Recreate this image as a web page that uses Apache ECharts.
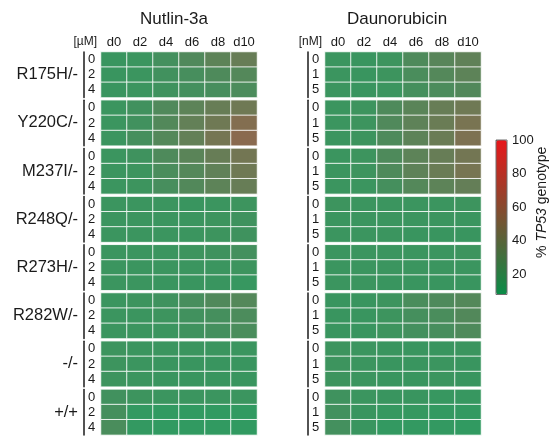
<!DOCTYPE html>
<html>
<head>
<meta charset="utf-8">
<script src="https://cdn.jsdelivr.net/npm/echarts@6/dist/echarts.min.js"></script>
<style>
  html, body { margin: 0; padding: 0; background: #fff; }
  #chart { width: 554px; height: 438px; }
</style>
</head>
<body>
<div id="chart"></div>
<script>
// Time points (days) and genotype groups
const days = ['d0', 'd2', 'd4', 'd6', 'd8', 'd10'];
const genotypes = ['R175H/-', 'Y220C/-', 'M237I/-', 'R248Q/-', 'R273H/-', 'R282W/-', '-/-', '+/+'];
const nutlinDoses = ['0', '2', '4'];
const daunoDoses = ['0', '1', '5'];
const colorbarTicks = [20, 40, 60, 80, 100];

// % TP53 genotype, Nutlin-3a treatment (rows: dose 0, 2, 4 µM; columns: d0..d10)
const nutR175H = [[14, 15, 19, 25, 31, 36], [14, 15, 18, 21, 24, 27], [14, 15, 17, 19, 21, 23]];
const nutY220C = [[15, 18, 25, 31, 36, 40], [15, 18, 26, 34, 40, 50], [15, 20, 27, 34, 43, 53]];
const nutM237I = [[15, 17, 24, 30, 36, 42], [15, 16, 22, 27, 33, 40], [15, 16, 21, 26, 31, 36]];
const nutR248Q = [[15, 15, 15, 14, 15, 16], [15, 15, 15, 15, 16, 17], [15, 15, 15, 15, 16, 17]];
const nutR273H = [[15, 15, 15, 16, 17, 19], [15, 15, 15, 15, 15, 16], [15, 15, 14, 14, 14, 13]];
const nutR282W = [[15, 16, 17, 21, 25, 27], [15, 15, 16, 18, 20, 23], [15, 15, 15, 17, 19, 22]];
const nutNull  = [[16, 15, 15, 15, 15, 15], [16, 15, 14, 14, 14, 14], [16, 15, 14, 14, 14, 14]];
const nutWT    = [[18, 16, 15, 15, 15, 15], [20, 11, 10, 10, 10, 10], [22, 11, 10, 10, 10, 10]];

// % TP53 genotype, Daunorubicin treatment (rows: dose 0, 1, 5 nM; columns: d0..d10)
const dauR175H = [[15, 14, 16, 24, 29, 33], [15, 14, 16, 22, 27, 31], [15, 14, 15, 20, 23, 26]];
const dauY220C = [[15, 16, 24, 30, 36, 40], [15, 16, 25, 32, 38, 45], [15, 16, 24, 31, 38, 47]];
const dauM237I = [[15, 16, 24, 31, 36, 42], [15, 16, 24, 32, 38, 44], [15, 15, 20, 27, 31, 35]];
const dauR248Q = [[16, 15, 15, 15, 15, 16], [15, 15, 15, 15, 15, 15], [15, 15, 15, 14, 14, 14]];
const dauR273H = [[15, 15, 15, 15, 15, 16], [15, 15, 15, 15, 15, 15], [15, 15, 14, 14, 14, 14]];
const dauR282W = [[14, 14, 16, 22, 24, 27], [14, 14, 16, 20, 22, 26], [14, 14, 16, 19, 21, 24]];
const dauNull  = [[16, 15, 14, 14, 14, 15], [16, 15, 14, 14, 15, 14], [16, 15, 14, 14, 15, 14]];
const dauWT    = [[17, 15, 14, 14, 13, 13], [18, 14, 12, 12, 11, 11], [19, 14, 11, 11, 11, 10]];

const nutlinGroups = [nutR175H, nutY220C, nutM237I, nutR248Q, nutR273H, nutR282W, nutNull, nutWT];
const daunoGroups = [dauR175H, dauY220C, dauM237I, dauR248Q, dauR273H, dauR282W, dauNull, dauWT];

const FONT = '"Liberation Sans", Arial, Helvetica, sans-serif';
const TEXT = '#1a1a1a';
const SCALE_MIN = 8, SCALE_MAX = 100;

const panels = [
  { groups: nutlinGroups, doses: nutlinDoses, unit: '[µM]', left: 101, unitGap: 4, showGenotype: true },
  { groups: daunoGroups, doses: daunoDoses, unit: '[nM]', left: 325, unitGap: 3, showGenotype: false }
];

const grids = [], xAxes = [], yAxes = [], series = [];

panels.forEach((p, pi) => {
  p.groups.forEach((rows, g) => {
    const idx = grids.length;
    grids.push({ left: p.left, top: 52 + g * 48.2, width: 156, height: 45.5, outerBoundsMode: 'none' });
    xAxes.push({
      type: 'category', gridIndex: idx, data: days, position: 'top',
      axisLine: { show: false }, axisTick: { show: false }, splitLine: { show: false },
      axisLabel: { show: g === 0, interval: 0, margin: 3, fontSize: 13, color: TEXT, fontFamily: FONT },
      name: g === 0 ? p.unit : '', nameLocation: 'start', nameGap: p.unitGap,
      nameTextStyle: { fontSize: 12, color: TEXT, fontFamily: FONT, align: 'right', verticalAlign: 'bottom', padding: [0, 0, 4, 0] }
    });
    yAxes.push({
      type: 'category', gridIndex: idx, data: p.doses, inverse: true, position: 'left', offset: 17,
      axisLine: { show: true, lineStyle: { color: TEXT, width: 1.5 } },
      axisTick: { show: false }, splitLine: { show: false },
      axisLabel: { inside: true, interval: 0, margin: 4, fontSize: 13, color: TEXT, fontFamily: FONT },
      name: p.showGenotype ? genotypes[g] : '', nameLocation: 'middle', nameRotate: 0, nameGap: 6,
      nameMoveOverlap: false,
      nameTextStyle: { fontSize: 16.5, color: TEXT, fontFamily: FONT, align: 'right', verticalAlign: 'middle' }
    });
    const data = [];
    rows.forEach((vals, r) => vals.forEach((v, c) => data.push([c, r, v])));
    series.push({
      type: 'heatmap', xAxisIndex: idx, yAxisIndex: idx, data,
      itemStyle: { borderColor: '#ffffff', borderWidth: 1, opacity: 0.86 },
      emphasis: { disabled: true }
    });
  });
});

// Colour bar scale
const cbIdx = grids.length;
grids.push({
  left: 496, top: 140, width: 11, height: 154.5, outerBoundsMode: 'none',
  show: true, z: 10, borderColor: '#6e6e6e', borderWidth: 1, backgroundColor: 'transparent'
});
xAxes.push({ type: 'value', gridIndex: cbIdx, show: false, min: 0, max: 1 });
yAxes.push({
  type: 'value', gridIndex: cbIdx, min: SCALE_MIN, max: SCALE_MAX, position: 'right',
  axisLine: { show: false }, splitLine: { show: false },
  axisTick: { show: true, length: 3, customValues: colorbarTicks, lineStyle: { color: '#333' } },
  axisLabel: { customValues: colorbarTicks, margin: 5, fontSize: 13, color: TEXT, fontFamily: FONT },
  name: '{n|% }{i|TP53}{n| genotype}', nameLocation: 'middle', nameRotate: 90, nameGap: 28,
  nameMoveOverlap: false,
  nameTextStyle: {
    padding: [0, 0, 0, 30],
    rich: {
      n: { fontSize: 14, color: TEXT, fontFamily: FONT },
      i: { fontSize: 14, color: TEXT, fontFamily: FONT, fontStyle: 'italic' }
    }
  }
});

const chart = echarts.init(document.getElementById('chart'), null, { renderer: 'canvas' });
chart.setOption({
  animation: false,
  backgroundColor: '#ffffff',
  textStyle: { fontFamily: FONT },
  title: [
    { text: 'Nutlin-3a', left: 169, top: 6, textAlign: 'center', textStyle: { fontSize: 17, fontWeight: 'normal', color: TEXT, fontFamily: FONT } },
    { text: 'Daunorubicin', left: 392, top: 6, textAlign: 'center', textStyle: { fontSize: 17, fontWeight: 'normal', color: TEXT, fontFamily: FONT } }
  ],
  grid: grids,
  xAxis: xAxes,
  yAxis: yAxes,
  visualMap: {
    type: 'continuous', min: SCALE_MIN, max: SCALE_MAX, dimension: 2,
    seriesIndex: series.map((s, i) => i),
    calculable: false, hoverLink: false, realtime: false,
    orient: 'vertical', left: 496, top: 140, itemWidth: 11, itemHeight: 154.5,
    padding: 0, text: null,
    inRange: { color: ['#0a8c48', '#e8161a'] }
  },
  series
});
</script>
</body>
</html>
